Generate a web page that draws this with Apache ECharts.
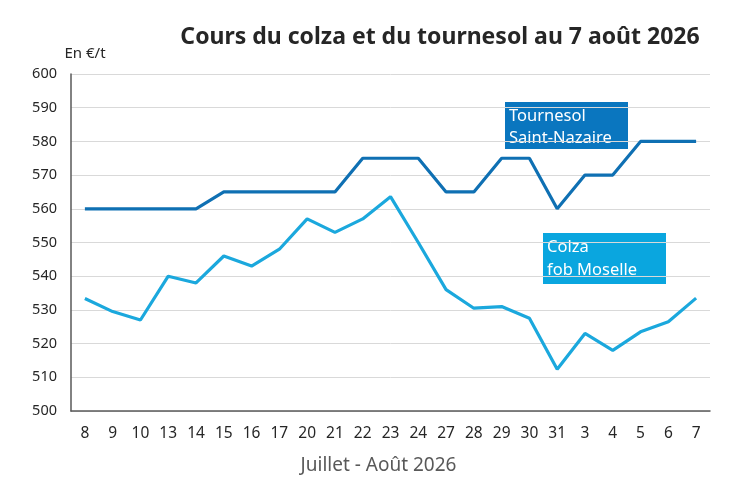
<!DOCTYPE html>
<html><head><meta charset="utf-8">
<script src="https://cdn.jsdelivr.net/npm/echarts@6/dist/echarts.min.js"></script>
<style>html,body{margin:0;padding:0;background:#fff}#c{width:747px;height:495px}</style>
</head><body><div id="c"></div>
<script>
const categories = ['8','9','10','13','14','15','16','17','20','21','22','23','24','27','28','29','30','31','3','4','5','6','7'];
const tournesol = [560,560,560,560,560,565,565,565,565,565,575,575,575,565,565,575,575,560,570,570,580,580,580];
const colza = [533.4,529.5,527,540,538,546,543,548,557,553,557,563.6,550,536,530.5,531,527.5,512.4,523,518,523.5,526.5,533.5];
const yTicks = {min:500, max:600, interval:10};
const FONT = '"Noto Sans", sans-serif';
const BOXFONT = '16.5px "Noto Sans", sans-serif';
const chart = echarts.init(document.getElementById('c'));
chart.setOption({
  animation:false,
  backgroundColor:'#fff',
  title:{text:'Cours du colza et du tournesol au 7 août 2026', left:435, top:21, textAlign:'center',
    textStyle:{fontFamily:FONT, fontSize:23, fontWeight:'bold', color:'#262626'}},
  grid:{left:71, right:37, top:74, bottom:84},
  xAxis:{type:'category', data:categories, boundaryGap:true,
    name:'Juillet - Août 2026', nameLocation:'middle', nameGap:45,
    nameTextStyle:{fontFamily:FONT, fontSize:19, color:'#595959', padding:[0,24,0,0]},
    axisLine:{lineStyle:{color:'#595959', width:1.5}},
    axisTick:{show:false},
    axisLabel:{fontFamily:FONT, fontSize:15.5, color:'#262626', margin:15}},
  yAxis:{type:'value', min:yTicks.min, max:yTicks.max, interval:yTicks.interval,
    name:'En €/t', nameLocation:'end', nameGap:13,
    nameTextStyle:{fontFamily:FONT, fontSize:15, color:'#262626', align:'center', padding:[0,0,0,28]},
    axisLine:{show:true, lineStyle:{color:'#595959', width:1.5}},
    axisTick:{show:false},
    splitLine:{lineStyle:{color:'#d9d9d9', width:1}},
    axisLabel:{fontFamily:FONT, fontSize:14.5, color:'#262626', margin:14}},
  series:[
    {name:'Tournesol Saint-Nazaire', type:'line', data:tournesol, symbol:'none',
      lineStyle:{color:'#0f70b3', width:3.2}},
    {name:'Colza fob Moselle', type:'line', data:colza, symbol:'none',
      lineStyle:{color:'#1ba8dd', width:3.2}}
  ],
  graphic:[
    {type:'rect', shape:{x:505, y:102, width:123, height:47}, style:{fill:'#0a76bf'}},
    {type:'text', x:509, y:116, style:{text:'Tournesol', fill:'#fff', font:BOXFONT, verticalAlign:'middle'}},
    {type:'text', x:509, y:138, style:{text:'Saint-Nazaire', fill:'#fff', font:BOXFONT, verticalAlign:'middle'}},
    {type:'rect', shape:{x:543, y:233, width:123, height:51}, style:{fill:'#0aa6df'}},
    {type:'text', x:547, y:247, style:{text:'Colza', fill:'#fff', font:BOXFONT, verticalAlign:'middle'}},
    {type:'text', x:547, y:270, style:{text:'fob Moselle', fill:'#fff', font:BOXFONT, verticalAlign:'middle'}}
  ]
});
</script></body></html>
